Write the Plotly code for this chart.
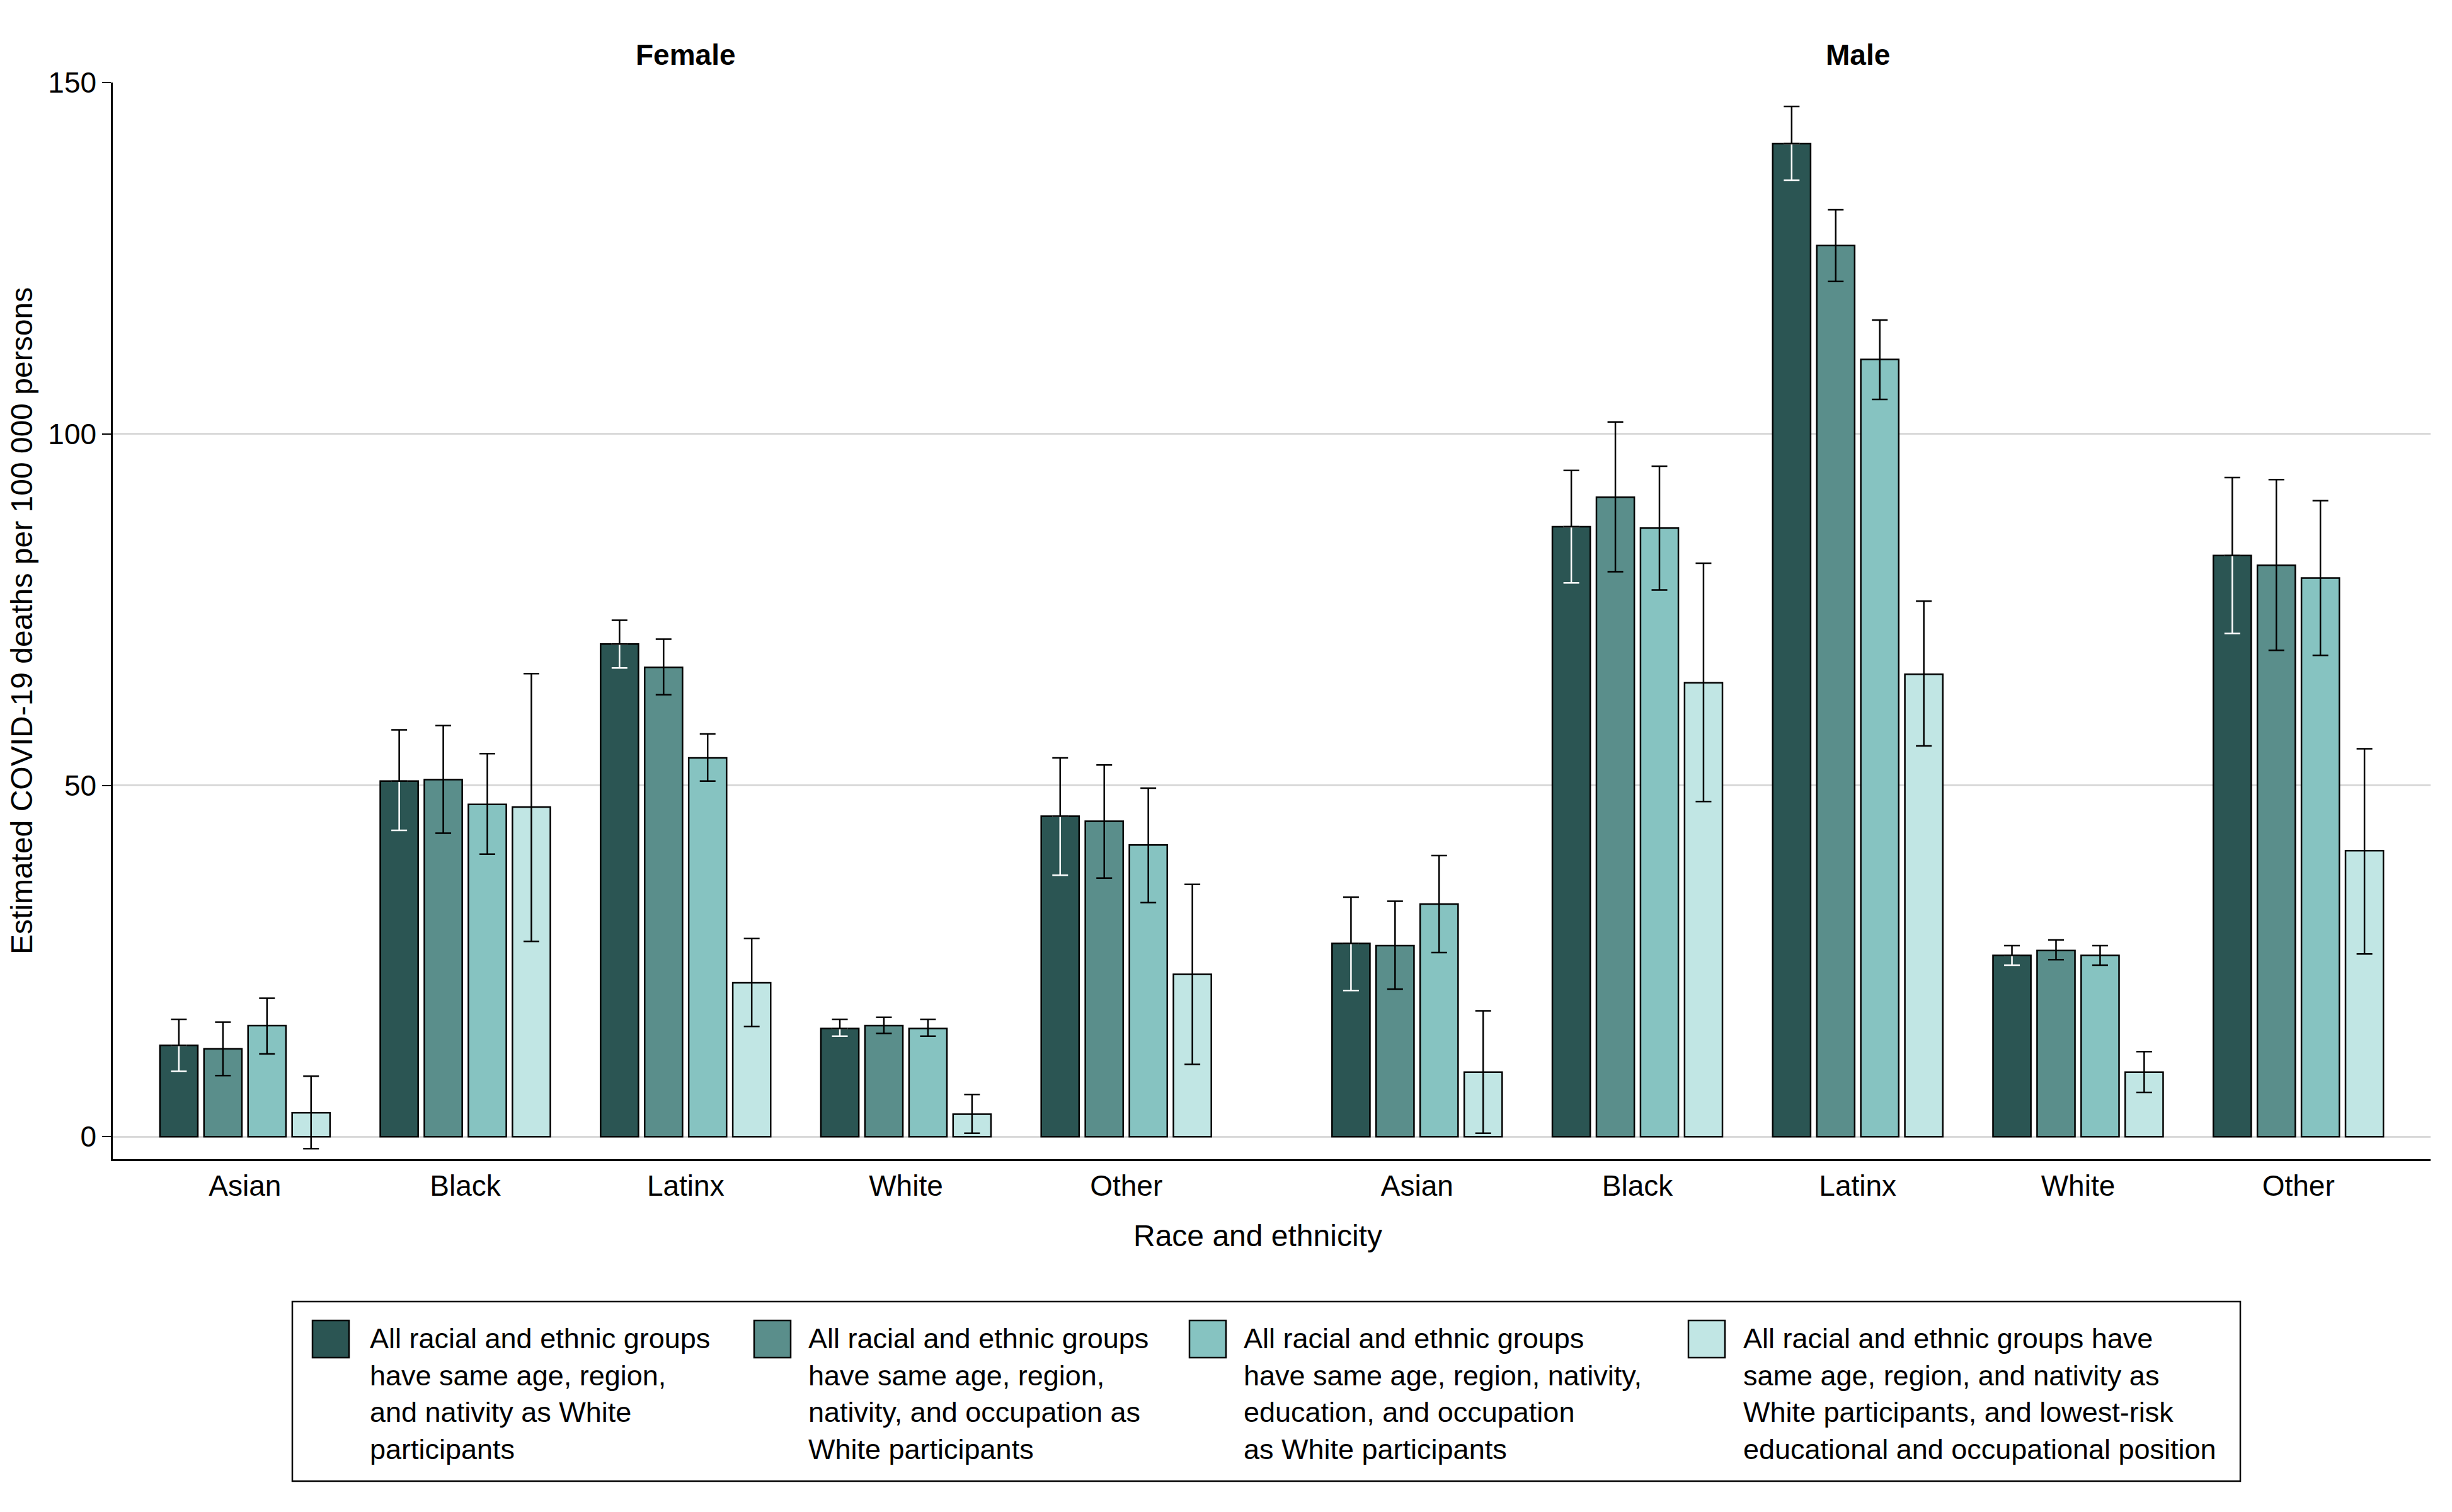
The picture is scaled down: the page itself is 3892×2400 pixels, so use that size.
import plotly.graph_objects as go

# ---------------- data ----------------
categories = ["Asian", "Black", "Latinx", "White", "Other"]
panel_titles = ["Female", "Male"]
series_names = [
    "All racial and ethnic groups<br>have same age, region,<br>and nativity as White<br>participants",
    "All racial and ethnic groups<br>have same age, region,<br>nativity, and occupation as<br>White participants",
    "All racial and ethnic groups<br>have same age, region, nativity,<br>education, and occupation<br>as White participants",
    "All racial and ethnic groups have<br>same age, region, and nativity as<br>White participants, and lowest-risk<br>educational and occupational position",
]
colors = ["#2b5553", "#5a8e8b", "#86c3c1", "#c1e6e4"]

female_est = [
    [13.0, 50.6, 70.1, 15.4, 45.6],
    [12.5, 50.8, 66.8, 15.8, 44.9],
    [15.8, 47.3, 53.9, 15.4, 41.5],
    [3.4, 46.9, 21.9, 3.2, 23.1],
]
female_lo = [
    [9.3, 43.6, 66.7, 14.3, 37.2],
    [8.7, 43.2, 62.9, 14.7, 36.8],
    [11.8, 40.2, 50.6, 14.3, 33.3],
    [-1.7, 27.8, 15.7, 0.5, 10.3],
]
female_hi = [
    [16.7, 57.9, 73.5, 16.7, 53.9],
    [16.3, 58.5, 70.8, 17.0, 52.9],
    [19.7, 54.5, 57.3, 16.7, 49.6],
    [8.6, 65.9, 28.2, 6.0, 35.9],
]
male_est = [
    [27.5, 86.8, 141.3, 25.8, 82.7],
    [27.2, 91.0, 126.8, 26.5, 81.3],
    [33.1, 86.6, 110.6, 25.8, 79.5],
    [9.2, 64.6, 65.8, 9.2, 40.7],
]
male_lo = [
    [20.8, 78.8, 136.1, 24.4, 71.6],
    [21.0, 80.4, 121.7, 25.2, 69.2],
    [26.2, 77.8, 104.9, 24.4, 68.5],
    [0.5, 47.7, 55.6, 6.3, 26.0],
]
male_hi = [
    [34.1, 94.8, 146.6, 27.2, 93.8],
    [33.5, 101.7, 131.9, 28.0, 93.5],
    [40.0, 95.4, 116.2, 27.2, 90.5],
    [17.9, 81.6, 76.2, 12.1, 55.2],
]
y_ticks = [0, 50, 100, 150]

# ---------------- figure ----------------
FONT = "Liberation Sans, Arial, sans-serif"
OFF = 8  # page body margin added by the browser
W, H = 3892 - OFF, 2400 - OFF
PW, PH = 3679, 1709
ML, MT = 179 - OFF, 131 - OFF
MR = W - ML - PW
MB = H - MT - PH


def xp(px):
    """reference-screen x pixel -> paper fraction"""
    return (px - OFF - ML) / PW


def yp(py):
    """reference-screen y pixel -> paper fraction"""
    return (H - MB - (py - OFF)) / PH


fig = go.Figure()
panels = [
    ("x", "x", female_est, female_lo, female_hi),
    ("x2", "x2", male_est, male_lo, male_hi),
]
for pi, (xa, ag, est, lo, hi) in enumerate(panels):
    for si in range(4):
        v = est[si]
        if si == 0:
            err = dict(type="data", symmetric=False,
                       array=[0] * len(v),
                       arrayminus=[a - b for a, b in zip(v, lo[si])],
                       color="white", thickness=2.5, width=12.5)
        else:
            err = dict(type="data", symmetric=False,
                       array=[b - a for a, b in zip(v, hi[si])],
                       arrayminus=[a - b for a, b in zip(v, lo[si])],
                       color="black", thickness=2.5, width=12.5)
        fig.add_trace(go.Bar(
            x=categories, y=v, xaxis=xa, yaxis="y",
            name=series_names[si], showlegend=False,
            offsetgroup=str(si), alignmentgroup=ag,
            marker=dict(color=colors[si], line=dict(color="black", width=2.5)),
            error_y=err,
        ))
    # upper part of the darkest series' interval drawn in black
    v0 = est[0]
    fig.add_trace(go.Bar(
        x=categories, y=v0, xaxis=xa, yaxis="y",
        showlegend=False, offsetgroup="0", alignmentgroup=ag,
        marker=dict(color="rgba(0,0,0,0)", line=dict(width=0)),
        error_y=dict(type="data", symmetric=False,
                     array=[b - a for a, b in zip(v0, hi[0])],
                     arrayminus=[0] * len(v0),
                     color="black", thickness=2.5, width=12.5),
        hoverinfo="skip",
    ))

xaxis_common = dict(
    type="category", showline=True, linecolor="black", linewidth=3,
    ticks="", showgrid=False, zeroline=False,
    tickfont=dict(family=FONT, size=46, color="black"),
    fixedrange=True,
)

fig.update_layout(
    width=W, height=H,
    margin=dict(l=ML, r=MR, t=MT, b=MB, autoexpand=False),
    paper_bgcolor="white", plot_bgcolor="white",
    barmode="group", bargap=0.2, bargroupgap=0.14,
    showlegend=False,
    font=dict(family=FONT, size=46, color="black"),
    xaxis=dict(domain=[0, 0.5], range=[-0.6, 4.66], anchor="y", **xaxis_common),
    xaxis2=dict(domain=[0.5, 1], range=[-0.66, 4.6], anchor="y", **xaxis_common),
    yaxis=dict(
        range=[-3.2, 150], tickvals=y_ticks, ticktext=[str(t) for t in y_ticks],
        showline=True, linecolor="black", linewidth=2.5,
        ticks="outside", ticklen=14, tickwidth=2, tickcolor="black",
        showgrid=True, gridcolor="#d9d9d9", gridwidth=3,
        zeroline=True, zerolinecolor="#d9d9d9", zerolinewidth=3,
        tickfont=dict(family=FONT, size=46, color="black"),
        title=dict(text="Estimated COVID-19 deaths per 100 000 persons",
                   font=dict(family=FONT, size=48, color="black"), standoff=16),
        automargin=False,
    ),
)

annotations = []
# panel titles
for pi, xa in enumerate(["x", "x2"]):
    annotations.append(dict(
        text="<b>%s</b>" % panel_titles[pi], x=categories[2], xref=xa,
        y=yp(87), yref="paper", showarrow=False, xanchor="center", yanchor="middle",
        font=dict(family=FONT, size=46, color="black"),
    ))
# x axis title
annotations.append(dict(
    text="Race and ethnicity", x=xp(1996), y=yp(1961), xref="paper", yref="paper",
    showarrow=False, xanchor="center", yanchor="middle",
    font=dict(family=FONT, size=48, color="black"),
))

# legend box
shapes = [dict(type="rect", xref="paper", yref="paper",
               x0=xp(464), x1=xp(3556), y0=yp(2066), y1=yp(2351),
               line=dict(color="black", width=2.5), fillcolor="rgba(0,0,0,0)")]
sw_x = [496, 1197, 1888, 2680]
tx_x = [585, 1281, 1972, 2765]
for i in range(4):
    shapes.append(dict(type="rect", xref="paper", yref="paper",
                       x0=xp(sw_x[i]), x1=xp(sw_x[i] + 58), y0=yp(2096), y1=yp(2155),
                       line=dict(color="black", width=2.5), fillcolor=colors[i]))
    annotations.append(dict(
        text=series_names[i], x=xp(tx_x[i]), y=yp(2212), xref="paper", yref="paper",
        showarrow=False, xanchor="left", yanchor="middle", align="left",
        font=dict(family=FONT, size=45, color="black"),
    ))

fig.update_layout(annotations=annotations, shapes=shapes)
fig.write_html("out.html")
